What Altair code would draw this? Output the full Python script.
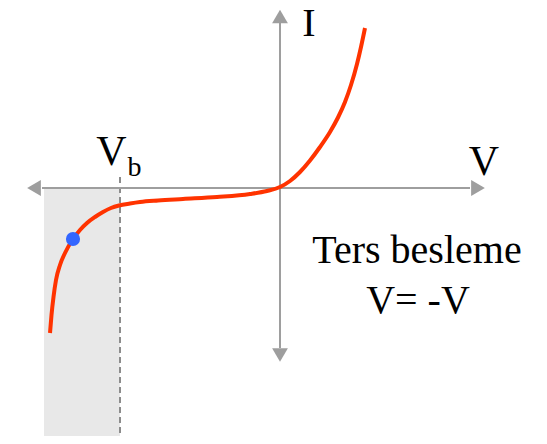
import altair as alt
import pandas as pd

# Diode I-V curve (reverse bias with breakdown)
curve_v = [-11.5, -11.425, -11.325, -11.2, -11.0, -10.75, -10.35, -10.0, -9.65, -9.25,
           -8.85, -8.45, -8.05, -7.5, -7.0, -6.1, -4.85, -3.15, -1.5, -0.65,
           0.0, 0.5, 1.0, 1.5, 2.0, 2.5, 2.9, 3.25, 3.55, 3.85, 4.05, 4.25]
curve_i = [-7.25, -6.35, -5.45, -4.6, -3.85, -3.25, -2.55, -2.1, -1.75, -1.45,
           -1.2, -1.0, -0.875, -0.775, -0.7, -0.625, -0.55, -0.45, -0.3, -0.15,
           0.05, 0.35, 0.8, 1.375, 2.05, 2.8, 3.525, 4.3, 5.15, 6.2, 7.05, 8.0]

dot_v = [-10.35]
dot_i = [-2.55]

region_v = [-11.8, -8.0]      # shaded breakdown region
vb = -8.0                      # breakdown voltage

x_dom = [-13.6, 12.95]
y_dom = [-12.4, 9.0]

label_text = ["I", "V", "V", "b", "Ters besleme", "V= -V"]
label_v = [1.45, 10.2, -8.425, -7.275, 6.85, 6.9]
label_i = [7.6, 0.65, 1.15, 0.6, -3.75, -6.25]
label_size = [40, 42, 42, 28, 40, 40]

xs = alt.Scale(domain=x_dom, nice=False, zero=False)
ys = alt.Scale(domain=y_dom, nice=False, zero=False)

def X(f="x"):
    return alt.X(f"{f}:Q", scale=xs, axis=None)

def Y(f="y"):
    return alt.Y(f"{f}:Q", scale=ys, axis=None)

region = alt.Chart(pd.DataFrame({"x": [region_v[0]], "x2": [region_v[1]],
                                 "y": [0.0], "y2": [y_dom[0]]})).mark_rect(
    color="#e8e8e8").encode(x=X(), x2="x2:Q", y=Y(), y2="y2:Q")

dash = alt.Chart(pd.DataFrame({"x": [vb], "y": [0.55], "y2": [y_dom[0]]})).mark_rule(
    color="#8c8c8c", strokeWidth=2, strokeDash=[6, 4]).encode(x=X(), y=Y(), y2="y2:Q")

haxis = alt.Chart(pd.DataFrame({"x": [-11.9], "x2": [9.5], "y": [0.0]})).mark_rule(
    color="#9e9e9e", strokeWidth=2).encode(x=X(), x2="x2:Q", y=Y())

vaxis = alt.Chart(pd.DataFrame({"x": [0.0], "y": [-8.0], "y2": [8.5]})).mark_rule(
    color="#9e9e9e", strokeWidth=2).encode(x=X(), y=Y(), y2="y2:Q")

arrows_df = pd.DataFrame({
    "x": [-12.3, 9.9, 0.0, 0.0],
    "y": [0.0, 0.0, 8.575, -8.35],
    "shape": ["triangle-left", "triangle-right", "triangle-up", "triangle-down"],
})
arrows = alt.Chart(arrows_df).mark_point(filled=True, opacity=1, color="#9e9e9e",
                                         size=250).encode(
    x=X(), y=Y(), shape=alt.Shape("shape:N", scale=None))

curve = alt.Chart(pd.DataFrame({"x": curve_v, "y": curve_i})).mark_line(
    color="#ff3300", strokeWidth=4, interpolate="monotone", strokeCap="butt").encode(
    x=X(), y=Y(), order="x:Q")

dot = alt.Chart(pd.DataFrame({"x": dot_v, "y": dot_i})).mark_point(
    filled=True, opacity=1, color="#3366ff", size=200).encode(x=X(), y=Y())

labels = alt.Chart(pd.DataFrame({"x": label_v, "y": label_i, "t": label_text,
                                 "s": label_size})).mark_text(
    font="Liberation Serif", color="black", align="center", baseline="alphabetic").encode(
    x=X(), y=Y(), text="t:N", size=alt.Size("s:Q", scale=None))

chart = alt.layer(region, dash, haxis, vaxis, arrows, curve, dot, labels).properties(
    width=531, height=428, padding=0,
    autosize=alt.AutoSizeParams(type="none"),
    background="white",
).configure_view(stroke=None)

chart.save("out.html", embed_options={"renderer": "svg", "actions": False})
